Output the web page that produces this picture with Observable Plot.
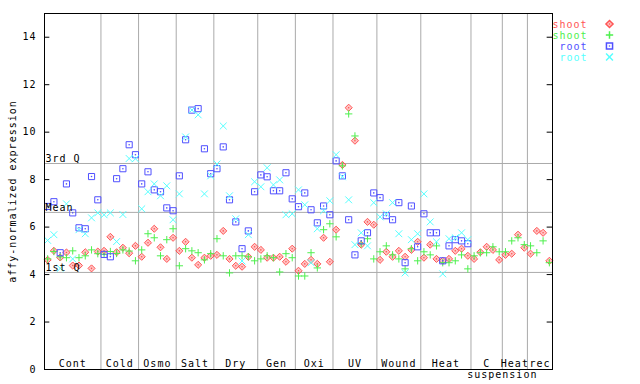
<!DOCTYPE html>
<html><head><meta charset="utf-8">
<script src="https://cdn.jsdelivr.net/npm/d3@7"></script>
<script src="https://cdn.jsdelivr.net/npm/@observablehq/plot@0.6"></script>
<style>body{margin:0;background:#fff}</style>
</head><body><div id="chart"></div>
<script>
// Categories (conditions) and how many samples each holds
const categories = ["Cont","Cold","Osmo","Salt","Dry","Gen","Oxi","UV","Wound","Heat","C","Heat","rec"];
const categorySizes = [9,6,6,6,7,6,6,7,7,8,5,4,4];
const subLabel = "suspension"; // second line of the "C" category

// Series values, one per sample position
const shootRed = [
  4.62,5.00,4.72,4.93,4.38,4.38,4.94,4.26,4.97,
  5.00,5.59,4.94,5.13,4.90,5.21,
  4.75,5.34,5.93,5.15,4.66,5.55,
  5.00,5.38,4.71,4.41,4.71,4.79,
  4.83,5.84,4.66,4.37,4.33,4.75,5.17,
  5.04,4.71,4.71,4.75,4.54,5.09,
  4.16,4.45,4.62,4.45,5.55,4.54,
  5.89,8.62,11.03,9.64,5.26,6.22,6.10,
  4.62,4.96,4.75,5.00,4.75,5.04,5.38,
  4.71,5.26,4.66,4.58,4.66,5.00,5.09,4.79,
  4.66,4.94,5.17,5.04,4.62,
  4.83,4.88,5.68,5.13,
  4.88,5.84,5.76,4.58
];
const shootGreen = [
  4.66,4.97,4.75,4.71,5.00,4.71,4.79,5.04,4.88,
  4.85,4.97,4.89,5.04,4.99,4.58,
  5.04,5.72,5.55,4.79,5.47,5.93,
  4.37,5.09,5.00,4.92,4.62,4.88,
  5.51,4.79,4.07,4.79,4.79,4.75,4.58,
  4.66,4.79,4.71,4.11,4.88,4.71,
  3.94,3.94,4.92,4.28,5.89,6.14,
  5.59,8.58,10.77,9.84,5.30,5.51,4.66,
  4.96,5.21,4.83,4.66,4.24,5.09,4.58,
  4.96,4.83,5.21,4.50,4.50,4.58,4.83,4.24,
  4.79,4.92,4.92,5.17,4.96,
  4.96,5.42,5.55,5.26,
  5.21,4.92,5.42,4.50
];
const rootBlue = [
  6.87,7.07,4.92,7.82,6.60,5.97,5.93,8.13,7.15,
  4.85,4.75,8.04,8.46,9.47,9.05,
  7.82,8.33,7.57,7.49,6.81,6.69,
  8.16,9.68,10.93,10.99,9.30,8.25,
  8.46,9.38,7.15,6.22,5.09,5.84,7.49,
  8.20,8.12,7.53,7.53,8.29,7.19,
  6.86,7.44,6.73,6.18,6.89,6.52,
  8.79,8.16,6.31,4.83,5.42,5.76,7.44,
  7.24,6.48,6.31,7.03,4.50,6.89,5.17,
  6.56,5.76,5.76,4.58,5.21,5.47,5.42,5.30,
  null,null,null,null,null,
  null,null,null,null,
  null,null,null,null
];
const rootCyan = [
  5.44,5.68,4.26,6.98,4.66,5.89,5.72,6.39,6.60,
  6.52,6.60,5.39,6.53,8.89,8.88,
  6.77,7.49,7.82,7.32,7.74,6.31,
  7.40,9.80,10.93,10.73,7.40,8.16,
  8.66,10.26,7.32,6.35,4.57,5.68,7.91,
  7.70,8.50,7.78,7.99,6.52,6.56,
  7.57,6.94,4.50,5.93,6.69,7.11,
  9.05,8.12,7.15,5.26,5.76,5.21,7.03,
  6.43,6.56,7.03,5.72,4.07,5.47,5.72,
  7.40,6.22,5.38,4.03,5.51,5.55,5.76,5.47,
  null,null,null,null,null,
  null,null,null,null,
  null,null,null,null
];

const quartileLabels = ["3rd Q","Mean","1st Q"];
const quartileValues = [8.68,6.62,4.09];
const yTicks = [0,2,4,6,8,10,12,14];

const legendLabels = ["shoot","shoot","root","root"];
const legendColors = ["#ff5555","#4ef04e","#5050ff","#55ffff"];
const legendSymbols = ["diamond2","plus","square2","times"];

// Derived structures
const total = d3.sum(categorySizes);
const cum = d3.cumsum(categorySizes);
const bounds = Array.from(cum).slice(0, -1);
const starts = [0, ...Array.from(cum).slice(0, -1)];
const catRows = categories.map((c, k) => ({label: c, x: starts[k] + categorySizes[k] / 2}));
const cIndex = categories.indexOf("C");
const subRows = [{label: subLabel, x: cum[cIndex]}];
const rows = vals => vals.map((v, i) => ({x: i + 0.5, y: v})).filter(d => d.y != null);
const quartRows = quartileLabels.map((l, k) => ({label: l, y: quartileValues[k]}));
const symR = {diamond2: 3.2, plus: 2.5, square2: 3.9, times: 3.2};
const symFill = {diamond2: 0.35};

const seriesMarks = [shootRed, shootGreen, rootBlue, rootCyan].flatMap((vals, k) => {
  const data = rows(vals);
  const s = legendSymbols[k];
  const m = [Plot.dot(data, {x: "x", y: "y", symbol: s, r: symR[s], stroke: legendColors[k], strokeWidth: 1,
    fill: symFill[s] ? legendColors[k] : "none", fillOpacity: symFill[s] || 0})];
  if (s === "square2" || s === "diamond2")
    m.push(Plot.dot(data, {x: "x", y: "y", r: 0.8, fill: legendColors[k], stroke: "none"}));
  return m;
});

const legendMarks = legendLabels.flatMap((l, k) => {
  const s = legendSymbols[k];
  const m = [
    Plot.text([l], {frameAnchor: "top-right", text: d => d, dx: 35, dy: 14 + 11 * k, textAnchor: "end", lineAnchor: "bottom", fill: legendColors[k]}),
    Plot.dot([0], {frameAnchor: "top-right", dx: 57, dy: 10.5 + 11 * k, symbol: s, r: symR[s], stroke: legendColors[k],
      fill: symFill[s] ? legendColors[k] : "none", fillOpacity: symFill[s] || 0})
  ];
  if (s === "square2" || s === "diamond2")
    m.push(Plot.dot([0], {frameAnchor: "top-right", dx: 57, dy: 10.5 + 11 * k, r: 0.8, fill: legendColors[k], stroke: "none"}));
  return m;
});

const chart = Plot.plot({
  width: 640, height: 384,
  marginLeft: 44, marginRight: 88, marginTop: 13, marginBottom: 15,
  x: {domain: [0, total], axis: null},
  y: {domain: [0, 15]},
  style: {fontFamily: "'DejaVu Sans Mono', monospace", fontSize: "10px", letterSpacing: "1px", background: "#fff", color: "#000", overflow: "visible"},
  marks: [
    Plot.ruleX(bounds, {stroke: "#aaaaaa"}),
    Plot.ruleY(quartRows, {y: "y", stroke: "#aaaaaa"}),
    ...seriesMarks,
    Plot.frame({stroke: "#000"}),
    Plot.axisY(yTicks, {tickSize: 0, tickPadding: 8, label: null}),
    Plot.ruleY(yTicks, {x1: 0, x2: 0.85, stroke: "#000"}),
    Plot.ruleY(yTicks, {x1: total - 0.85, x2: total, stroke: "#000"}),
    Plot.text(quartRows, {x: 0, y: "y", text: "label", textAnchor: "start", lineAnchor: "bottom", dx: 1, dy: -1, fill: "#000"}),
    Plot.text(catRows, {x: "x", y: 0, text: "label", textAnchor: "middle", lineAnchor: "bottom", dy: -3, fill: "#000"}),
    Plot.text(subRows, {x: "x", y: 0, text: "label", textAnchor: "middle", lineAnchor: "bottom", dy: 8, fill: "#000"}),
    Plot.text(["affy-normalized expression"], {frameAnchor: "left", text: d => d, rotate: -90, dx: -32, textAnchor: "middle", lineAnchor: "middle", fill: "#000"}),
    ...legendMarks
  ]
});
document.getElementById("chart").appendChild(chart);
</script>
</body></html>
